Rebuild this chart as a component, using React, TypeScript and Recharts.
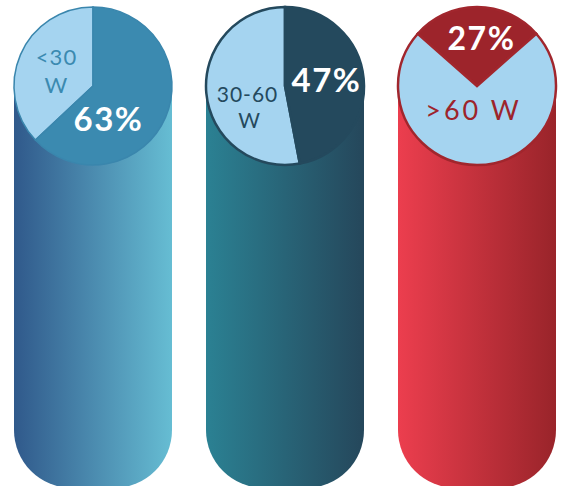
import React from "react";
import { BarChart, Bar, Cell, XAxis, YAxis, PieChart, Pie } from "recharts";

// Wattage groups and the share of each group
const categories = ["<30 W", "30-60 W", ">60 W"];
const shares = [63, 47, 27];
const wattLines = [["<30", "W"], ["30-60", "W"], [">60 W"]];

// Column backgrounds (full height pills)
const columnValues = [100, 100, 100];

// Colours
const gradientStops = [
  ["#30598b", "#66bdd3"],
  ["#2b8193", "#25475b"],
  ["#ec3e4e", "#99242a"],
];
const sliceDark = ["#3b8ab0", "#24495d", "#9d242b"];
const sliceLight = "#a5d4f0";
const ringStroke = ["#3a86ad", "#24495d", "#a1262d"];

// Layout
const CHART_W = 576;
const CHART_H = 488;
const BAND = CHART_W / 3;
const PIE_CY = 86;
const PIE_R = 79;
// Text offsets from the pie centre: [dx, dy] for percentage, list for watt lines
const pctOffset = [
  [15.5, 45],
  [41.5, 6],
  [4.5, -36],
];
const wattOffset = [
  [[-36.5, -21], [-36.5, 7]],
  [[-37.5, 16], [-35.5, 42]],
  [[-3.5, 34]],
];
const pctSize = [33, 33, 32];
const wattSize = [22, 21, 27];

const columnData = categories.map((name, i) => ({ name, value: columnValues[i] }));

// Each pie: share slice drawn dark, remainder light
const pieData = shares.map((s, i) =>
  i === 2
    ? [
        { key: "share", value: s },
        { key: "rest", value: 100 - s },
      ]
    : [
        { key: "rest", value: 100 - s },
        { key: "share", value: s },
      ]
);

const startAngles = [90, 90, 90 - (shares[2] * 3.6) / 2];

const FONT = "Lato, 'Open Sans', sans-serif";

function makeLabel(i: number) {
  return (props: any) => {
    const { cx, cy, index } = props;
    if (index !== 0) return null;
    const [pdx, pdy] = pctOffset[i];
    return (
      <g>
        <text
          x={cx + pdx}
          y={cy + pdy}
          textAnchor="middle"
          fill="#ffffff"
          fontFamily={FONT}
          fontWeight={700}
          fontSize={pctSize[i]}
          letterSpacing={1.5}
        >
          {shares[i]}%
        </text>
        {wattLines[i].map((line, j) => (
          <text
            key={j}
            x={cx + wattOffset[i][j][0]}
            y={cy + wattOffset[i][j][1]}
            textAnchor="middle"
            fill={sliceDark[i]}
            fontFamily={FONT}
            fontWeight={400}
            fontSize={wattSize[i]}
            letterSpacing={i === 2 ? 3 : 1}
          >
            {line}
          </text>
        ))}
      </g>
    );
  };
}

export default function App() {
  return (
    <div
      style={{
        position: "fixed",
        left: 0,
        top: 0,
        width: 563,
        height: 486,
        overflow: "hidden",
        background: "#ffffff",
      }}
    >
      <div style={{ position: "absolute", left: -3, top: 0 }}>
        <BarChart
          width={CHART_W}
          height={CHART_H}
          data={columnData}
          margin={{ top: 8, right: 0, bottom: 0, left: 0 }}
          barSize={158}
        >
          <defs>
            {gradientStops.map(([a, b], i) => (
              <linearGradient key={i} id={`col${i}`} x1="0" y1="0" x2="1" y2="0">
                <stop offset="0%" stopColor={a} />
                <stop offset="100%" stopColor={b} />
              </linearGradient>
            ))}
          </defs>
          <XAxis dataKey="name" hide />
          <YAxis hide domain={[0, 100]} />
          <Bar dataKey="value" isAnimationActive={false} radius={[79, 79, 58, 58]}>
            {columnData.map((_, i) => (
              <Cell key={i} fill={`url(#col${i})`} />
            ))}
          </Bar>
        </BarChart>
      </div>
      <div style={{ position: "absolute", left: -3, top: 0 }}>
        <PieChart width={CHART_W} height={CHART_H} margin={{ top: 0, right: 0, bottom: 0, left: 0 }}>
          {pieData.map((d, i) => (
            <Pie
              key={i}
              data={d}
              dataKey="value"
              nameKey="key"
              cx={BAND * i + BAND / 2}
              cy={PIE_CY}
              outerRadius={PIE_R}
              innerRadius={0}
              startAngle={startAngles[i]}
              endAngle={startAngles[i] + 360}
              stroke={ringStroke[i]}
              strokeWidth={i === 0 ? 1.5 : 2.5}
              isAnimationActive={false}
              labelLine={false}
              label={makeLabel(i)}
            >
              {d.map((s, j) => (
                <Cell key={j} fill={s.key === "share" ? sliceDark[i] : sliceLight} />
              ))}
            </Pie>
          ))}
        </PieChart>
      </div>
    </div>
  );
}
